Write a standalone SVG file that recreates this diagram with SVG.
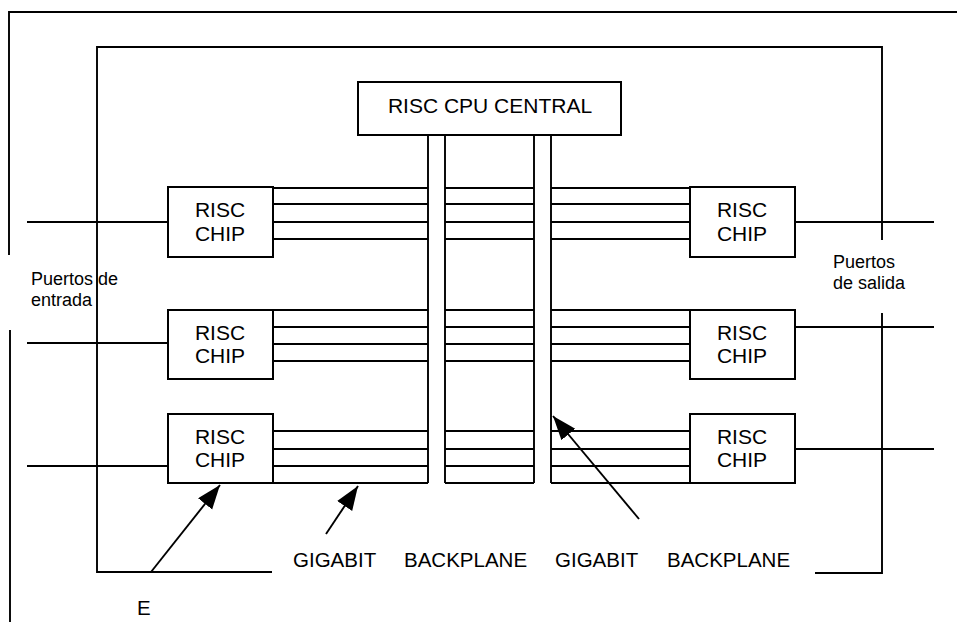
<svg xmlns="http://www.w3.org/2000/svg" width="957" height="622" viewBox="0 0 957 622">
<defs>
<style>
.ln{stroke:#000;stroke-width:1.9;fill:none}
.box{stroke:#000;stroke-width:2;fill:#fff}
.t{font-family:"Liberation Sans",Arial,sans-serif;fill:#000}
.chip{font-size:21px;text-anchor:middle}
.lbl{font-size:20.5px}
.port{font-size:18px}
</style>
<marker id="ah" markerUnits="userSpaceOnUse" markerWidth="26" markerHeight="20" refX="24" refY="9" orient="auto">
<path d="M0,0 L24,9 L0,18 Z" fill="#000"/>
</marker>
</defs>
<rect width="957" height="622" fill="#fff"/>
<g id="frames">
<path class="ln" d="M9,255 V12 H957"/>
<path class="ln" d="M10,330 V622"/>
<path class="ln" d="M272,572 H97 V47 H882 V240"/>
<path class="ln" d="M882,313 V573 H815"/>
</g>
<g id="connectors">
<g id="ports">
<path class="ln" d="M27,222 H168 M27,343 H168 M27,466 H168"/>
<path class="ln" d="M795,222 H934 M795,327 H934 M795,449 H934"/>
</g>
<g id="bus-bars">
<path class="ln" d="M428,135 V483 M445,135 V483 M534,135 V483 M551,135 V483"/>
</g>
<g id="bus-lines">
<path class="ln" d="M273,188 H428 M273,204 H428 M273,222 H428 M273,239 H428 M445,188 H534 M445,204 H534 M445,222 H534 M445,239 H534 M551,188 H690 M551,204 H690 M551,222 H690 M551,239 H690"/>
<path class="ln" d="M273,310 H428 M273,327 H428 M273,344 H428 M273,361 H428 M445,310 H534 M445,327 H534 M445,344 H534 M445,361 H534 M551,310 H690 M551,327 H690 M551,344 H690 M551,361 H690"/>
<path class="ln" d="M273,431 H428 M273,449 H428 M273,466 H428 M273,483 H428 M445,431 H534 M445,449 H534 M445,466 H534 M445,483 H534 M551,431 H690 M551,449 H690 M551,466 H690 M551,483 H690"/>
</g>
<g id="arrows">
<line class="ln" x1="151" y1="572" x2="220" y2="485" marker-end="url(#ah)"/>
<line class="ln" x1="326" y1="534" x2="358" y2="486" marker-end="url(#ah)"/>
<line class="ln" x1="639" y1="519" x2="553" y2="416" marker-end="url(#ah)"/>
</g>
</g>
<g id="cpu">
<rect class="box" x="358" y="82" width="263" height="53"/>
<text class="t chip" x="490" y="113">RISC CPU CENTRAL</text>
</g>
<g id="chip-l1"><rect class="box" x="168" y="187" width="105" height="70"/><text class="t chip" x="220" y="217">RISC</text><text class="t chip" x="220" y="241">CHIP</text></g>
<g id="chip-l2"><rect class="box" x="168" y="310" width="105" height="69"/><text class="t chip" x="220" y="340">RISC</text><text class="t chip" x="220" y="363">CHIP</text></g>
<g id="chip-l3"><rect class="box" x="168" y="414" width="105" height="69"/><text class="t chip" x="220" y="444">RISC</text><text class="t chip" x="220" y="467">CHIP</text></g>
<g id="chip-r1"><rect class="box" x="690" y="187" width="105" height="70"/><text class="t chip" x="742" y="217">RISC</text><text class="t chip" x="742" y="241">CHIP</text></g>
<g id="chip-r2"><rect class="box" x="690" y="310" width="105" height="69"/><text class="t chip" x="742" y="340">RISC</text><text class="t chip" x="742" y="363">CHIP</text></g>
<g id="chip-r3"><rect class="box" x="690" y="414" width="105" height="69"/><text class="t chip" x="742" y="444">RISC</text><text class="t chip" x="742" y="467">CHIP</text></g>
<g id="labels">
<text class="t port" x="31" y="285">Puertos de</text>
<text class="t port" x="31" y="306">entrada</text>
<text class="t port" x="833" y="268">Puertos</text>
<text class="t port" x="833" y="289">de salida</text>
<text class="t lbl" x="293" y="567">GIGABIT</text>
<text class="t lbl" x="404" y="567">BACKPLANE</text>
<text class="t lbl" x="555" y="567">GIGABIT</text>
<text class="t lbl" x="667" y="567">BACKPLANE</text>
<text class="t lbl" x="137" y="615">E</text>
</g>
</svg>
